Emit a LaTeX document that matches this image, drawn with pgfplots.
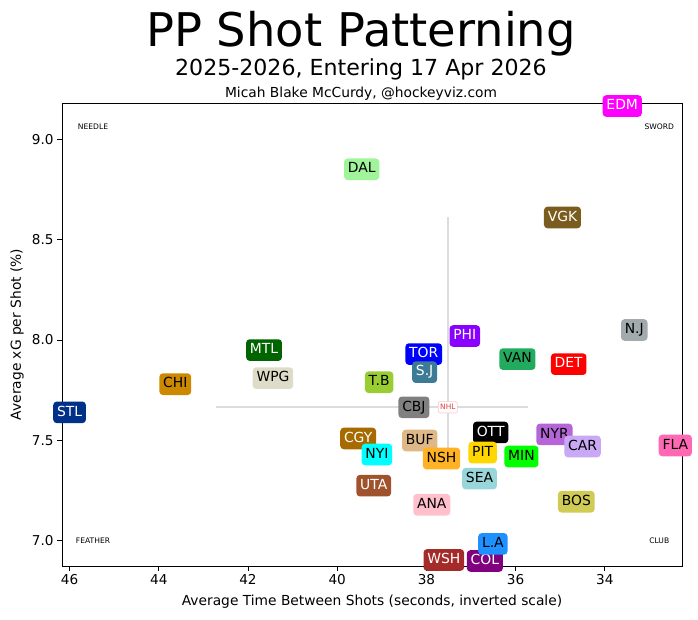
\documentclass[border=0pt]{standalone}
\usepackage{pgfplots}
\pgfplotsset{compat=1.18}
\usepackage{fontspec}
\setmainfont{DejaVu Sans}
\newcommand{\fs}[1]{\fontsize{#1}{#1}\selectfont}
\definecolor{cEDM}{HTML}{FF00FF}
\definecolor{cDAL}{HTML}{A0F59A}
\definecolor{cVGK}{HTML}{7A5C1E}
\definecolor{cNJ}{HTML}{A2AAAD}
\definecolor{cPHI}{HTML}{8A00FF}
\definecolor{cMTL}{HTML}{006400}
\definecolor{cTOR}{HTML}{0000FF}
\definecolor{cVAN}{HTML}{22AA5E}
\definecolor{cDET}{HTML}{FF0000}
\definecolor{cSJ}{HTML}{3D7A96}
\definecolor{cCHI}{HTML}{CC8800}
\definecolor{cWPG}{HTML}{DEDCC8}
\definecolor{cTB}{HTML}{9ACD32}
\definecolor{cSTL}{HTML}{003087}
\definecolor{cCBJ}{HTML}{808080}
\definecolor{cOTT}{HTML}{000000}
\definecolor{cNYR}{HTML}{B565D8}
\definecolor{cCGY}{HTML}{A66A00}
\definecolor{cBUF}{HTML}{DEB887}
\definecolor{cCAR}{HTML}{C9A8F5}
\definecolor{cFLA}{HTML}{FF69B4}
\definecolor{cPIT}{HTML}{FFD700}
\definecolor{cNYI}{HTML}{00FFFF}
\definecolor{cMIN}{HTML}{00FF00}
\definecolor{cNSH}{HTML}{FFB224}
\definecolor{cSEA}{HTML}{99D6D9}
\definecolor{cUTA}{HTML}{A0522D}
\definecolor{cANA}{HTML}{FFC0CB}
\definecolor{cBOS}{HTML}{CFCB55}
\definecolor{cLA}{HTML}{1E90FF}
\definecolor{cWSH}{HTML}{A52A2A}
\definecolor{cCOL}{HTML}{800080}
\definecolor{hair}{HTML}{DCDCDC}
\definecolor{nhlred}{HTML}{E03A3A}
\definecolor{nhlpink}{HTML}{F8C8C8}
\newcommand{\team}[5]{%
  \addplot[draw=none, mark=none, nodes near coords={#1},
    every node near coord/.append style={anchor=center, fill=#2, text=#3,
      rounded corners=3.5pt, inner xsep=3.8pt, inner ysep=4.2pt,
      text height=10.3pt, text depth=2.9pt, font=\fs{13.9}}]
    coordinates {(#4,#5)};}
\newcommand{\corner}[3]{%
  \addplot[draw=none, mark=none, nodes near coords={#1},
    every node near coord/.append style={anchor=center, text=black, inner sep=0pt, font=\fs{7.6}}]
    coordinates {(#2,#3)};}
\begin{document}
\begin{tikzpicture}[x=1pt,y=1pt]
\path[use as bounding box] (0,0) rectangle (698,619);
\node[font=\fs{46.4}, anchor=base] at (361,572) {PP Shot Patterning};
\node[font=\fs{22.1}, anchor=base] at (361,543) {2025-2026, Entering 17 Apr 2026};
\node[font=\fs{13.8}, anchor=base] at (361,521.5) {Micah Blake McCurdy, @hockeyviz.com};
\node[font=\fs{13.8}, anchor=base] at (372,13.3) {Average Time Between Shots (seconds, inverted scale)};
\node[font=\fs{13.8}, rotate=90, anchor=center] at (17,284.5) {Average xG per Shot (\%)};
\begin{axis}[at={(62pt,53pt)}, anchor=south west, scale only axis,
  width=620pt, height=463pt,
  x dir=reverse, xmin=32.27, xmax=46.17, ymin=6.875, ymax=9.18,
  xtick={34,36,38,40,42,44,46}, ytick={7,7.5,8,8.5,9},
  xtick pos=lower, ytick pos=left, tick align=outside,
  major tick length=4.9pt,
  tick style={black, line width=0.8pt},
  axis line style={line width=0.8pt},
  /pgf/number format/assume math mode=true,
  ticklabel style={font=\fs{13.6}},
  yticklabel style={/pgf/number format/.cd, fixed, fixed zerofill, precision=1},
  clip=false]
\addplot[hair, line width=2pt] coordinates {(42.72,7.665) (35.72,7.665)};
\addplot[hair, line width=2pt] coordinates {(37.52,8.61) (37.52,7.42)};
\addplot[draw=none, mark=none, nodes near coords={NHL},
  every node near coord/.append style={anchor=center, fill=white, draw=nhlpink, line width=0.6pt, text=nhlred,
    rounded corners=2pt, inner xsep=2pt, inner ysep=2.5pt, text height=5.6pt, text depth=0.8pt, font=\fs{7.4}}]
  coordinates {(37.52,7.665)};
\corner{NEEDLE}{45.475}{9.062}
\corner{SWORD}{32.78}{9.062}
\corner{FEATHER}{45.475}{7.0}
\corner{CLUB}{32.78}{7.0}
\team{EDM}{cEDM}{white}{33.61}{9.165}
\team{DAL}{cDAL}{black}{39.45}{8.85}
\team{VGK}{cVGK}{white}{34.95}{8.61}
\team{N.J}{cNJ}{black}{33.34}{8.05}
\team{PHI}{cPHI}{white}{37.14}{8.02}
\team{MTL}{cMTL}{white}{41.64}{7.95}
\team{TOR}{cTOR}{white}{38.06}{7.93}
\team{VAN}{cVAN}{black}{35.96}{7.905}
\team{DET}{cDET}{white}{34.81}{7.88}
\team{S.J}{cSJ}{white}{38.04}{7.84}
\team{WPG}{cWPG}{black}{41.44}{7.81}
\team{T.B}{cTB}{black}{39.06}{7.79}
\team{CHI}{cCHI}{black}{43.63}{7.78}
\team{CBJ}{cCBJ}{black}{38.28}{7.665}
\team{STL}{cSTL}{white}{46.0}{7.64}
\team{OTT}{cOTT}{white}{36.56}{7.54}
\team{NYR}{cNYR}{black}{35.13}{7.53}
\team{CGY}{cCGY}{white}{39.53}{7.51}
\team{BUF}{cBUF}{black}{38.15}{7.50}
\team{FLA}{cFLA}{black}{32.42}{7.475}
\team{CAR}{cCAR}{black}{34.5}{7.47}
\team{PIT}{cPIT}{black}{36.74}{7.44}
\team{NYI}{cNYI}{black}{39.11}{7.43}
\team{MIN}{cMIN}{black}{35.87}{7.42}
\team{NSH}{cNSH}{black}{37.66}{7.41}
\team{SEA}{cSEA}{black}{36.81}{7.31}
\team{UTA}{cUTA}{white}{39.18}{7.275}
\team{BOS}{cBOS}{black}{34.64}{7.195}
\team{ANA}{cANA}{black}{37.88}{7.18}
\team{WSH}{cWSH}{white}{37.61}{6.905}
\team{COL}{cCOL}{white}{36.69}{6.90}
\team{L.A}{cLA}{black}{36.51}{6.985}
\end{axis}
\end{tikzpicture}
\end{document}
